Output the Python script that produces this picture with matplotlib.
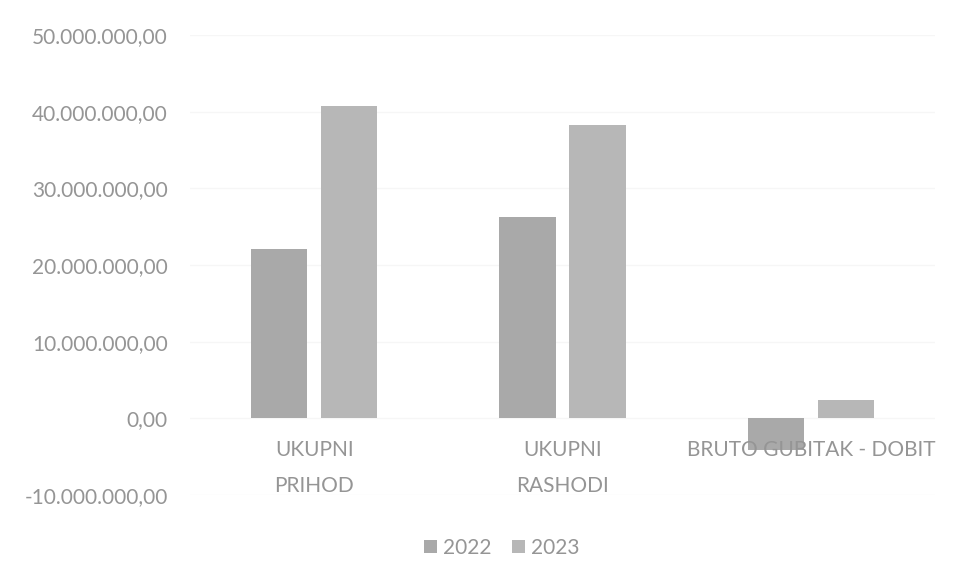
import matplotlib
matplotlib.use("Agg")
import matplotlib.pyplot as plt
import numpy as np
from matplotlib.ticker import FuncFormatter

categories = ["UKUPNI\nPRIHOD", "UKUPNI\nRASHODI", "BRUTO GUBITAK - DOBIT"]
series_names = ["2022", "2023"]
values_2022 = [22_100_000, 26_200_000, -4_100_000]
values_2023 = [40_800_000, 38_300_000, 2_400_000]
yticks = [-10_000_000, 0, 10_000_000, 20_000_000, 30_000_000, 40_000_000, 50_000_000]

plt.rcParams['font.family'] = ['Lato', 'DejaVu Sans']
txt_color = '#959595'

fig = plt.figure(figsize=(9.71, 5.71), dpi=100)
ax = fig.add_axes([190/971, 1-495/571, 745/971, 460/571])

x = np.arange(len(categories))
w = 0.226
gap = 0.056
ax.bar(x - (w+gap)/2, values_2022, w, color='#a9a9a9', label=series_names[0], zorder=2)
ax.bar(x + (w+gap)/2, values_2023, w, color='#b7b7b7', label=series_names[1], zorder=2)

ax.set_xlim(-0.5, len(categories)-0.5)
ax.set_ylim(-10_000_000, 50_000_000)
ax.set_yticks(yticks)
ax.yaxis.set_major_formatter(FuncFormatter(
    lambda v, p: f"{v:,.2f}".replace(",", "X").replace(".", ",").replace("X", ".")))
ax.tick_params(axis='y', length=0, labelsize=15, labelcolor=txt_color, pad=16)
ax.grid(axis='y', color='#f6f6f6', linewidth=1, zorder=0)
for s in ax.spines.values():
    s.set_visible(False)

ax.set_xticks([])
for xi, lab in zip(x, categories):
    ax.text(xi, -2_800_000, lab, ha='center', va='top', fontsize=15,
            color=txt_color, linespacing=2.0, zorder=3)

leg = fig.legend(loc='center', bbox_to_anchor=(502/971, 1-548/571), ncol=2,
                 frameon=False, fontsize=15, handlelength=0.6, handleheight=0.6,
                 handletextpad=0.3, columnspacing=1.0)
for t in leg.get_texts():
    t.set_color(txt_color)

fig.savefig("out.png", dpi=100, facecolor='white')
